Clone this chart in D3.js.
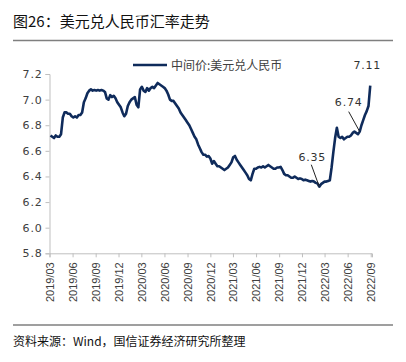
<!DOCTYPE html>
<html>
<head>
<meta charset="utf-8">
<script src="https://cdn.jsdelivr.net/npm/d3@7"></script>
<style>
  body { margin: 0; background: #fff; }
  svg { display: block; font-family: "Noto Sans CJK SC", "Noto Sans", sans-serif; }
</style>
</head>
<body>
<div id="chart"></div>
<script>
// weekly central parity readings, USD/CNY, starting at startDate
const startDate = "2019-03-05"
const rates = [
  6.72, 6.71, 6.70, 6.72, 6.71, 6.71, 6.73, 6.86, 6.90, 6.90,
  6.89, 6.89, 6.87, 6.86, 6.87, 6.86, 6.88, 6.88, 6.90, 6.98,
  7.01, 7.05, 7.07, 7.08, 7.07, 7.075, 7.07, 7.075, 7.07, 7.075,
  7.07, 7.06, 7.01, 7.00, 7.035, 7.02, 7.03, 7.01, 6.98, 6.96,
  6.94, 6.90, 6.87, 6.89, 6.95, 6.98, 7.00, 7.01, 7.02, 6.96,
  6.94, 7.08, 7.10, 7.07, 7.06, 7.09, 7.07, 7.09, 7.10, 7.09,
  7.11, 7.13, 7.12, 7.11, 7.10, 7.09, 7.07, 7.04, 7.00, 6.99,
  6.99, 6.97, 6.95, 6.93, 6.90, 6.88, 6.86, 6.84, 6.82, 6.80,
  6.77, 6.74, 6.71, 6.69, 6.65, 6.62, 6.59, 6.57, 6.57, 6.555,
  6.56, 6.54, 6.50, 6.52, 6.50, 6.48, 6.48, 6.47, 6.46, 6.45,
  6.46, 6.47, 6.49, 6.51, 6.55, 6.56, 6.53, 6.51, 6.49, 6.47,
  6.45, 6.43, 6.41, 6.38, 6.37, 6.42, 6.46, 6.46, 6.47, 6.475,
  6.47, 6.48, 6.47, 6.48, 6.49, 6.48, 6.47, 6.46, 6.46, 6.47,
  6.47, 6.475, 6.45, 6.42, 6.41, 6.41, 6.40, 6.39, 6.39, 6.40,
  6.39, 6.38, 6.385, 6.38, 6.37, 6.375, 6.37, 6.365, 6.36, 6.365,
  6.36, 6.35, 6.345, 6.32, 6.34, 6.35, 6.36, 6.36, 6.365, 6.37,
  6.47, 6.59, 6.70, 6.78, 6.71, 6.70, 6.71, 6.69, 6.70, 6.71,
  6.71, 6.72, 6.74, 6.75, 6.74, 6.73, 6.75, 6.80, 6.84, 6.88,
  6.91, 6.95, 7.11
]
const yTicks = [5.8, 6.0, 6.2, 6.4, 6.6, 6.8, 7.0, 7.2]
const xTicks = ["2019/03", "2019/06", "2019/09", "2019/12", "2020/03", "2020/06",
  "2020/09", "2020/12", "2021/03", "2021/06", "2021/09", "2021/12",
  "2022/03", "2022/06", "2022/09"]
// annotated points: week index and label
const notes = [
  { i: 153, label: "6.35" },
  { i: 176, label: "6.74" },
  { i: 182, label: "7.11" }
]

const width = 406, height = 362
const parseDay = d3.timeParse("%Y-%m-%d")
const parseMonth = d3.timeParse("%Y/%m")
const t0 = parseDay(startDate)
const data = rates.map((v, i) => ({ date: d3.timeDay.offset(t0, 7 * i), value: v }))

const svg = d3.select("#chart").append("svg")
  .attr("width", width)
  .attr("height", height)

// title + rules
svg.append("text")
  .attr("x", 13).attr("y", 27)
  .style("font-size", "15px").style("fill", "#111")
  .text("图26：美元兑人民币汇率走势")
svg.append("line")
  .attr("x1", 13).attr("x2", 393).attr("y1", 40.5).attr("y2", 40.5)
  .attr("stroke", "#7f7f7f").attr("stroke-width", 1.5)
svg.append("line")
  .attr("x1", 13).attr("x2", 393).attr("y1", 325).attr("y2", 325)
  .attr("stroke", "#7f7f7f").attr("stroke-width", 1.5)
svg.append("text")
  .attr("x", 13).attr("y", 346)
  .style("font-size", "12px").style("fill", "#111")
  .text("资料来源：Wind，国信证券经济研究所整理")

var x = d3.scaleTime()
  .domain([parseDay("2019-03-01"), parseDay("2022-09-06")])
  .range([49.5, 372])
var y = d3.scaleLinear()
  .domain([5.8, 7.2])
  .range([253.3, 74])

// y axis
var gy = svg.append("g")
  .attr("transform", "translate(49.5,0)")
  .call(d3.axisLeft(y).tickValues(yTicks).tickSize(4).tickPadding(3).tickFormat(d3.format(".1f")))
gy.select(".domain").attr("stroke", "#bfbfbf")
gy.selectAll(".tick line").attr("stroke", "#bfbfbf")
gy.selectAll(".tick text")
  .style("font-size", "11px").style("fill", "#404040")
  .style("letter-spacing", "0.8px")
  .style("font-family", "'DejaVu Sans', sans-serif")

// x axis
var gx = svg.append("g")
  .attr("transform", "translate(0,253.3)")
  .call(d3.axisBottom(x).tickValues(xTicks.map(parseMonth)).tickSize(4).tickFormat(d3.timeFormat("%Y/%m")))
gx.select(".domain").attr("stroke", "#bfbfbf")
gx.selectAll(".tick line").attr("stroke", "#bfbfbf")
gx.selectAll(".tick text")
  .attr("transform", "rotate(-90)")
  .attr("x", -9).attr("y", 0).attr("dy", "0.35em")
  .style("text-anchor", "end")
  .style("font-size", "11px").style("fill", "#404040")
  .style("font-family", "'Liberation Sans', sans-serif")

// the line
var line = d3.line()
  .x(d => x(d.date))
  .y(d => y(d.value))
svg.append("path")
  .datum(data)
  .attr("d", line)
  .attr("fill", "none")
  .attr("stroke", "#0f2b5b")
  .attr("stroke-width", 2.6)
  .attr("stroke-linejoin", "round")

// legend
svg.append("line")
  .attr("x1", 133).attr("x2", 167).attr("y1", 65).attr("y2", 65)
  .attr("stroke", "#0f2b5b").attr("stroke-width", 2.6)
svg.append("text")
  .attr("x", 171).attr("y", 69.5)
  .style("font-size", "12px").style("fill", "#404040")
  .text("中间价:美元兑人民币")

// annotations
notes.forEach(n => {
  const d = data[n.i]
  const px = x(d.date), py = y(d.value)
  let tx, ty
  if (n.label == "7.11") {
    tx = px - 3; ty = 69
  } else if (n.label == "6.74") {
    tx = px - 11; ty = py - 26
    svg.append("line")
      .attr("x1", px - 11).attr("y1", py - 20).attr("x2", px).attr("y2", py)
      .attr("stroke", "#222").attr("stroke-width", 1)
  } else {
    tx = px - 7; ty = py - 26
    svg.append("line")
      .attr("x1", px - 8).attr("y1", py - 22).attr("x2", px).attr("y2", py)
      .attr("stroke", "#222").attr("stroke-width", 1)
  }
  svg.append("text")
    .attr("x", tx).attr("y", ty)
    .style("text-anchor", "middle")
    .style("font-size", "11px").style("fill", "#333")
    .style("letter-spacing", "0.8px")
    .style("font-family", "'DejaVu Sans', sans-serif")
    .text(n.label)
})
</script>
</body>
</html>
